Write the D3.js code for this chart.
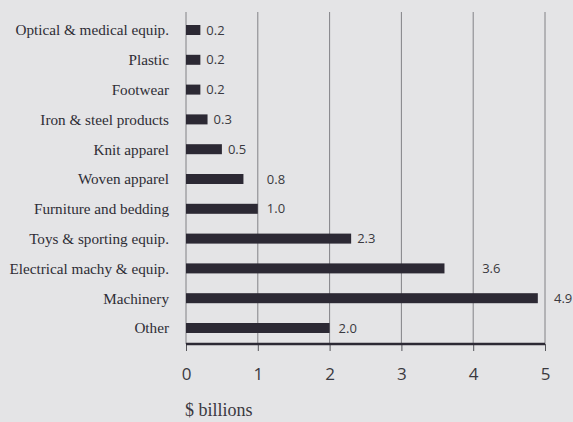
<!DOCTYPE html>
<html><head><meta charset="utf-8">
<script src="https://cdn.jsdelivr.net/npm/d3@7"></script>
<style>
html,body{margin:0;padding:0;background:#e4e4e6;}
svg{display:block;}
</style></head>
<body>
<script>
const categories = ["Optical & medical equip.","Plastic","Footwear","Iron & steel products","Knit apparel","Woven apparel","Furniture and bedding","Toys & sporting equip.","Electrical machy & equip.","Machinery","Other"];
const values = [0.2,0.2,0.2,0.3,0.5,0.8,1.0,2.3,3.6,4.9,2.0];
const tickValues = [0,1,2,3,4,5];
const axisTitle = "$ billions";

(function(){
const W = 573, H = 422;
const svg = d3.select("body").append("svg").attr("width", W).attr("height", H);
svg.append("rect").attr("width", W).attr("height", H).attr("fill", "#e4e4e6");

const x = d3.scaleLinear().domain([0,5]).range([186,545]);
const y = d3.scalePoint().domain(categories).range([30,328]);
const gTop = 12, gBottom = 344;
const barH = 10;

// gridlines
svg.append("g").selectAll("line").data(tickValues.slice(1)).join("line")
  .attr("x1", d=>x(d)).attr("x2", d=>x(d)).attr("y1", gTop).attr("y2", gBottom)
  .attr("stroke", "#77777c").attr("stroke-width", 0.9);
// left axis line
svg.append("line").attr("x1", x(0)).attr("x2", x(0)).attr("y1", gTop).attr("y2", gBottom)
  .attr("stroke", "#77777c").attr("stroke-width", 0.9);

// bars
svg.append("g").selectAll("rect").data(values).join("rect")
  .attr("x", x(0)).attr("y", (d,i)=>y(categories[i]) - barH/2)
  .attr("width", d=>x(d)-x(0)).attr("height", barH)
  .attr("fill", "#2c2934");

// value labels
function labelX(v){
  const end = x(v);
  const next = Math.ceil(v - 1e-9);
  const gx = x(Math.max(next, Math.round(v)));
  if (gx - end < 30 && gx - end > -3) return gx + 9;
  return end + 6;
}
svg.append("g").selectAll("text").data(values).join("text")
  .attr("x", d=>labelX(d)).attr("y", (d,i)=>y(categories[i]))
  .attr("dy", "0.35em")
  .attr("font-family", "'Open Sans', 'DejaVu Sans', sans-serif").attr("font-size", 13)
  .attr("fill", "#3a3940")
  .text(d=>d3.format(".1f")(d));

// category labels
svg.append("g").selectAll("text").data(categories).join("text")
  .attr("x", 169).attr("y", d=>y(d)).attr("dy", "0.35em")
  .attr("text-anchor", "end")
  .attr("font-family", "'Liberation Serif', 'DejaVu Serif', serif").attr("font-size", 15.2)
  .attr("fill", "#2e2d35")
  .text(d=>d);

// bottom axis
const xAxis = d3.axisBottom(x).tickValues(tickValues).tickSize(7).tickPadding(17).tickFormat(d3.format("d"));
const gx = svg.append("g").attr("transform", `translate(0,${gBottom})`).call(xAxis);
gx.select(".domain").remove();
gx.selectAll(".tick line").attr("stroke", "#55555a").attr("stroke-width", 1);
gx.selectAll(".tick text").attr("font-family", "'Open Sans', 'DejaVu Sans', sans-serif")
  .attr("font-size", 17).attr("fill", "#3a3940");
svg.append("line").attr("x1", x(0)).attr("x2", x(5)).attr("y1", gBottom).attr("y2", gBottom)
  .attr("stroke", "#2c2934").attr("stroke-width", 2.5);

svg.append("text").attr("x", x(0) - 1).attr("y", 416)
  .attr("font-family", "'Liberation Serif', 'DejaVu Serif', serif").attr("font-size", 18)
  .attr("fill", "#3a3940").text(axisTitle);
})();
</script>
</body></html>
